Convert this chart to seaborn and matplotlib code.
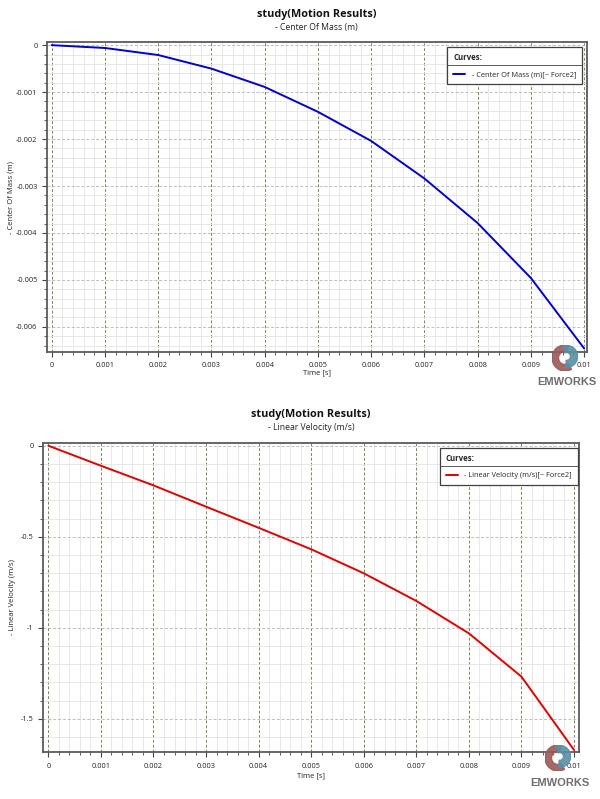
import matplotlib
matplotlib.use("Agg")
import matplotlib.pyplot as plt
import pandas as pd
import seaborn as sns
from matplotlib.ticker import MultipleLocator, FuncFormatter
from matplotlib.patches import Wedge
from matplotlib.lines import Line2D

# values
time_s = [0, 0.001, 0.002, 0.003, 0.004, 0.005, 0.006, 0.007, 0.008, 0.009, 0.01]
center_of_mass = [0, -0.00006, -0.00021, -0.0005, -0.00089, -0.00142,
                  -0.00204, -0.00284, -0.00379, -0.00496, -0.00646]
linear_velocity = [0, -0.110, -0.218, -0.335, -0.451, -0.569,
                   -0.701, -0.853, -1.031, -1.269, -1.672]

title = "study(Motion Results)"
charts = [
    {"sub": "- Center Of Mass (m)", "vals": center_of_mass, "color": "#0000cc",
     "leg": "- Center Of Mass (m)[~ Force2]", "rect": [0.0778, 0.5598, 0.9002, 0.3872],
     "ylim": (-0.00653, 0.00006), "xlim": (-0.000094, 0.01005),
     "ymaj": 0.001, "ymin": 0.0002, "ylab_x": -0.059, "xlab_y": -0.058,
     "leg_anchor": (0.991, 0.986), "logo": (565, 358), "emw": (567, 382),
     "title_y": 14, "sub_y": 27.7},
    {"sub": "- Linear Velocity (m/s)", "vals": linear_velocity, "color": "#dd0000",
     "leg": "- Linear Velocity (m/s)[~ Force2]", "rect": [0.0712, 0.0588, 0.8943, 0.3871],
     "ylim": (-1.683, 0.0165), "xlim": (-0.000107, 0.0101),
     "ymaj": 0.5, "ymin": 0.1, "ylab_x": -0.05, "xlab_y": -0.066,
     "leg_anchor": (0.997, 0.984), "logo": (558, 758), "emw": (560, 783),
     "title_y": 414, "sub_y": 427.3},
]

sns.set_theme(style="white")
plt.rcParams["font.family"] = ["Open Sans", "DejaVu Sans"]
plt.rcParams["axes.unicode_minus"] = False

W, H = 600, 799
fig = plt.figure(figsize=(6, 7.99), dpi=100)
fmt = FuncFormatter(lambda v, p: "%g" % round(v, 6))
legends = []

for c in charts:
    ax = fig.add_axes(c["rect"])
    df = pd.DataFrame({"time": time_s, "value": c["vals"]})
    sns.lineplot(data=df, x="time", y="value", ax=ax, color=c["color"],
                 linewidth=1.4, label=c["leg"])
    ax.set_xlim(*c["xlim"])
    ax.set_ylim(*c["ylim"])
    ax.xaxis.set_major_locator(MultipleLocator(0.001))
    ax.xaxis.set_minor_locator(MultipleLocator(0.0002))
    ax.yaxis.set_major_locator(MultipleLocator(c["ymaj"]))
    ax.yaxis.set_minor_locator(MultipleLocator(c["ymin"]))
    ax.xaxis.set_major_formatter(fmt)
    ax.yaxis.set_major_formatter(fmt)
    ax.grid(which="minor", color="#e4e4e4", linewidth=0.6, linestyle="-")
    ax.grid(which="major", axis="y", color="#bdbdbd", linewidth=0.7, linestyle=(0, (3, 2)))
    ax.grid(which="major", axis="x", color="#84845a", linewidth=0.7, linestyle=(0, (3, 2)))
    ax.set_axisbelow(True)
    for s in ax.spines.values():
        s.set_color("#5a5a5a")
        s.set_linewidth(1.3)
    ax.tick_params(which="both", direction="out", colors="#444444", labelsize=5.3,
                   bottom=True, left=True)
    ax.tick_params(which="major", length=3.6, width=0.8)
    ax.tick_params(which="minor", length=2, width=0.6)
    ax.tick_params(axis="x", which="major", pad=4)
    ax.tick_params(axis="y", which="major", pad=3)
    ax.tick_params(labelcolor="#222222")
    ax.set_xlabel("Time [s]", fontsize=5.5, color="#222222")
    ax.set_ylabel(c["sub"], fontsize=5.5, color="#222222")
    ax.xaxis.set_label_coords(0.5, c["xlab_y"])
    ax.yaxis.set_label_coords(c["ylab_x"], 0.5)

    leg = ax.legend(title="Curves:", loc="upper right", bbox_to_anchor=c["leg_anchor"],
                    borderaxespad=0, frameon=True, fancybox=False, fontsize=5.3,
                    title_fontproperties={"weight": "bold", "size": 5.6},
                    alignment="left", handlelength=1.6, handletextpad=0.9,
                    borderpad=0.8, labelspacing=1.3, framealpha=1)
    leg.get_frame().set_edgecolor("#404040")
    leg.get_frame().set_linewidth(0.9)
    legends.append(leg)

    cx = c["rect"][0] + c["rect"][2] / 2
    fig.text(cx, 1 - c["title_y"] / H, title, ha="center", va="center",
             fontsize=7.8, fontweight="bold", color="#111111")
    fig.text(cx, 1 - c["sub_y"] / H, c["sub"], ha="center", va="center",
             fontsize=6.2, color="#222222")

    # EMWORKS logo
    lx, ly = c["logo"]
    r = 13
    lax = fig.add_axes([(lx - r) / W, 1 - (ly + r) / H, 2 * r / W, 2 * r / H])
    lax.set_xlim(-1, 1)
    lax.set_ylim(-1, 1)
    lax.axis("off")
    lax.add_patch(Wedge((0, 0), 1, 75, 300, width=0.5, color="#9a5a57", alpha=0.9))
    lax.add_patch(Wedge((0.12, 0.12), 0.85, -95, 110, width=0.55, color="#5b8fa3", alpha=0.9))
    ex, ey = c["emw"]
    fig.text(ex / W, 1 - ey / H, "EMWORKS", ha="center", va="center", fontsize=8,
             fontweight="bold", color="#6e6e6e", family="Liberation Sans")

# separator line under the legend title
fig.canvas.draw()
for leg in legends:
    bb = leg.get_frame().get_window_extent()
    tb = leg.get_title().get_window_extent()
    yline = tb.y0 - 3
    fig.add_artist(Line2D([bb.x0 / W, bb.x1 / W], [yline / H, yline / H],
                          color="#404040", linewidth=0.6))

fig.savefig("out.png", dpi=100)
